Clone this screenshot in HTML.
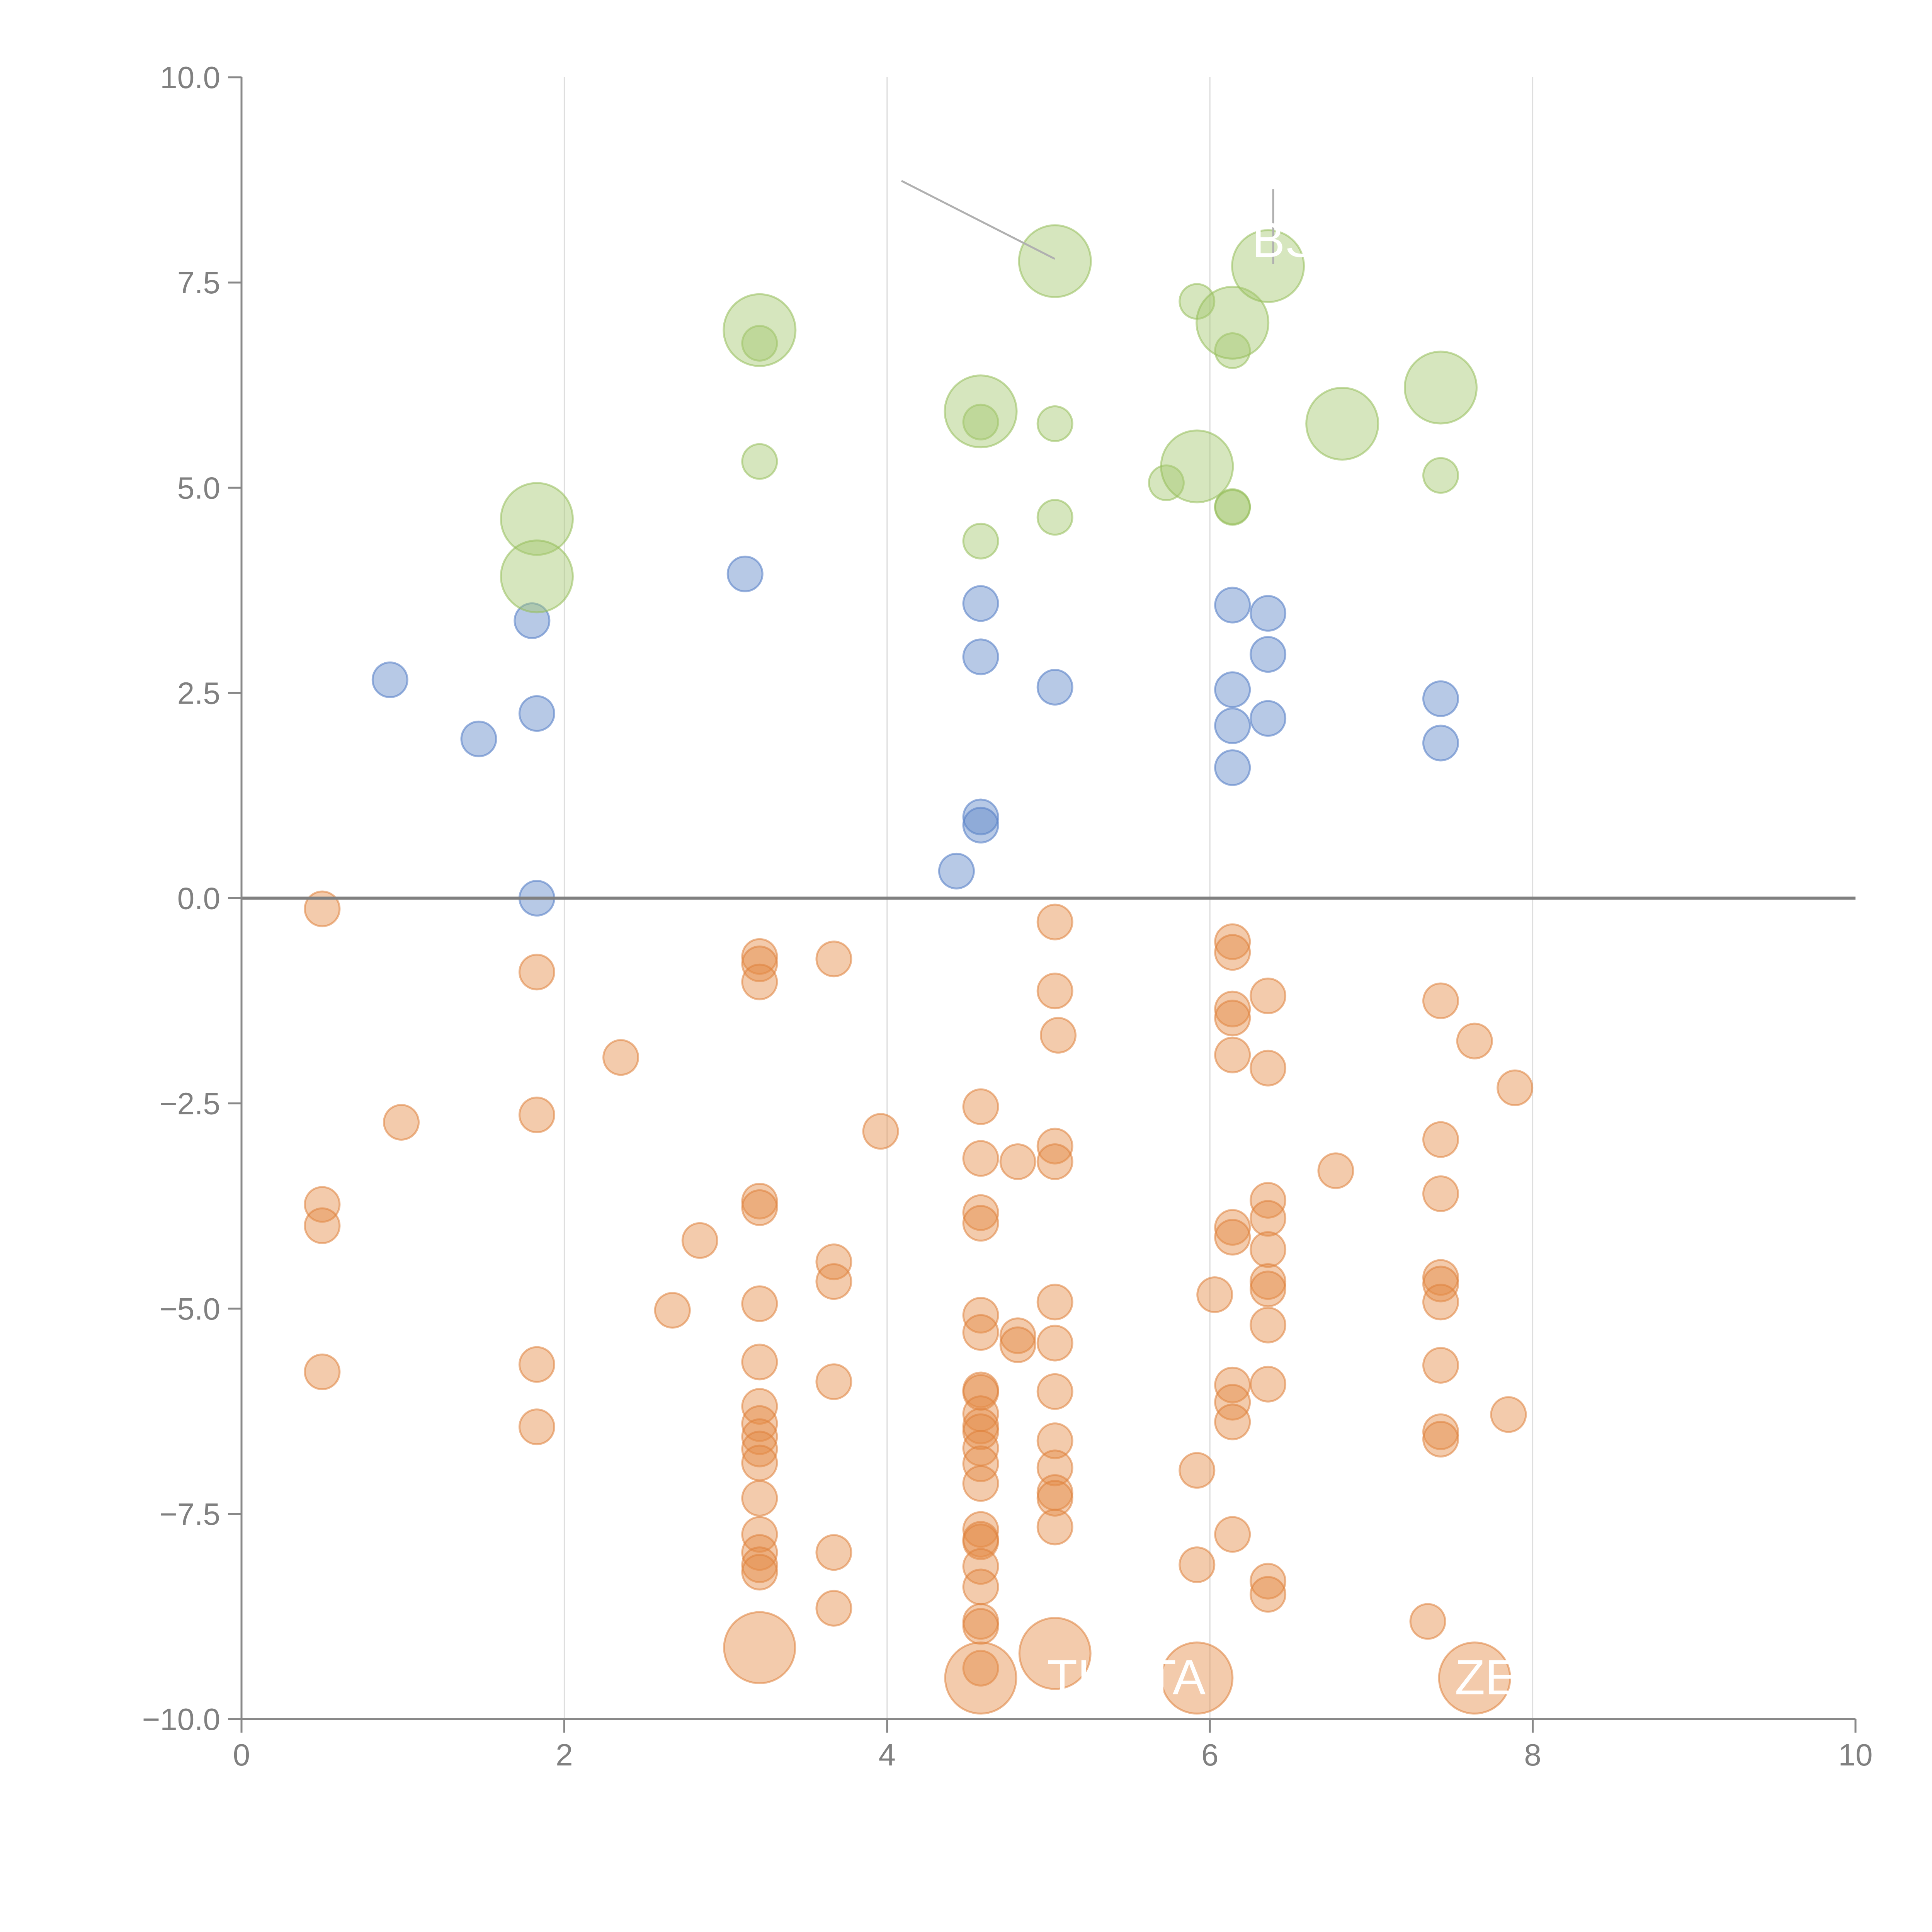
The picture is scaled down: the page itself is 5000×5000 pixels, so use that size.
<!DOCTYPE html>
<html><head><meta charset="utf-8"><style>html,body{margin:0;padding:0;background:#fff}svg{display:block}</style></head>
<body>
<svg id="chart" width="5000" height="5000" viewBox="0 0 5000 5000" xmlns="http://www.w3.org/2000/svg" font-family="Liberation Sans, sans-serif">
<g id="grid"></g>
<g id="marks"></g>
<g id="annot"></g>
<g id="axes"></g>
</svg>
<script>
const xTicks=[0,2,4,6,8,10];
const yTicks=[10,7.5,5,2.5,0,-2.5,-5,-7.5,-10];
const yTickLabels=["10.0","7.5","5.0","2.5","0.0","\u22122.5","\u22125.0","\u22127.5","\u221210.0"];
const blueX=[0.92,1.47,1.83,1.80,1.83,3.12,4.58,4.58,5.04,4.58,4.58,4.43,6.14,6.36,6.36,6.14,6.14,6.36,6.14,7.43,7.43];
const blueY=[2.66,1.94,2.25,3.38,0.0,3.95,3.59,2.94,2.57,0.99,0.89,0.33,3.57,3.47,2.97,2.54,2.10,2.19,1.59,2.43,1.89];
const greenX=[3.21,3.21,4.58,4.58,5.04,5.04,5.92,6.14,5.73,6.14,6.14,7.43];
const greenY=[6.76,5.32,5.80,4.35,5.78,4.64,7.27,6.67,5.06,4.77,4.76,5.15];
const greenBigX=[1.83,1.83,3.21,4.58,5.04,6.14,6.36,5.92,6.82,7.43];
const greenBigY=[4.62,3.92,6.92,5.93,7.76,7.01,7.70,5.26,5.78,6.22];
const orangeX=[0.5,0.5,0.5,0.5,0.99,1.83,1.83,1.83,1.83,2.35,2.67,2.84,
3.21,3.21,3.21,3.21,3.21,3.21,3.21,3.21,3.21,3.21,3.21,3.21,3.21,3.21,3.21,3.21,3.21,
3.67,3.67,3.67,3.67,3.67,3.67,3.96,
4.58,4.58,4.58,4.58,4.58,4.58,4.58,4.58,4.58,4.58,4.58,4.58,4.58,4.58,4.58,4.58,4.58,4.58,4.58,4.58,4.58,4.58,
4.81,4.81,4.81,
5.04,5.04,5.04,5.04,5.04,5.04,5.04,5.04,5.04,5.04,5.04,5.04,5.06,
5.92,5.92,6.03,
6.14,6.14,6.14,6.14,6.14,6.14,6.14,6.14,6.14,6.14,6.14,
6.36,6.36,6.36,6.36,6.36,6.36,6.36,6.36,6.36,6.36,6.36,
6.78,7.35,7.43,7.43,7.43,7.43,7.43,7.43,7.43,7.43,7.43,7.64,7.89,7.85];
const orangeY=[-0.13,-3.73,-3.99,-5.77,-2.73,-0.90,-2.64,-5.68,-6.44,-1.94,-5.02,-4.17,
-0.71,-0.80,-1.02,-3.69,-3.77,-4.94,-5.65,-6.19,-6.40,-6.56,-6.71,-6.88,-7.31,-7.75,-7.97,-8.12,-8.21,
-0.74,-4.43,-4.67,-5.89,-7.97,-8.65,-2.84,
-2.54,-3.17,-3.83,-3.96,-5.08,-5.29,-5.99,-6.02,-6.28,-6.43,-6.50,-6.70,-6.89,-7.13,-7.69,-7.81,-7.84,-8.14,-8.39,-8.81,-8.87,-9.38,
-3.21,-5.33,-5.44,
-0.29,-1.13,-3.02,-3.21,-4.92,-5.42,-6.01,-6.61,-6.94,-7.24,-7.31,-7.66,-1.67,
-6.97,-8.12,-4.83,
-0.53,-0.66,-1.35,-1.46,-1.91,-4.01,-4.13,-5.93,-6.14,-6.38,-7.75,
-1.19,-2.07,-3.68,-3.90,-4.28,-4.67,-4.76,-5.20,-5.92,-8.32,-8.48,
-3.32,-8.81,-1.25,-2.94,-3.60,-4.62,-4.70,-4.92,-5.69,-6.50,-6.59,-1.74,-2.31,-6.29];
const orangeBigX=[3.21,4.58,5.04,5.92,7.64];
const orangeBigY=[-9.13,-9.50,-9.20,-9.50,-9.50];

const X0=625,X1=4802,Y0=4449,Y1=200;
const sx=v=>X0+(v-0)/(10-0)*(X1-X0);
const sy=v=>Y0-(v+10)/20*(Y0-Y1);
const NS="http://www.w3.org/2000/svg";
function mk(tag,attrs,parent){const e=document.createElementNS(NS,tag);for(const k in attrs)e.setAttribute(k,attrs[k]);parent.appendChild(e);return e;}
const grid=document.getElementById('grid'),marks=document.getElementById('marks'),axes=document.getElementById('axes'),annot=document.getElementById('annot');

[2,4,6,8].forEach(t=>{const l=mk('line',{x1:sx(t),x2:sx(t),y1:Y1,y2:Y0,stroke:'#dcdcdc','stroke-width':3},grid);

});

function series(xs,ys,r,fill,stroke,name){xs.forEach((x,i)=>{const c=mk('circle',{cx:sx(x),cy:sy(ys[i]),r:r,fill:fill,stroke:stroke,'stroke-width':5},marks);

});}
series(orangeX,orangeY,45,'rgba(228,140,70,0.45)','rgba(222,130,60,0.55)','orange-bubble');
series(orangeBigX,orangeBigY,92,'rgba(228,140,70,0.45)','rgba(222,130,60,0.55)','orange-big-bubble');
series(blueX,blueY,45,'rgba(95,135,200,0.45)','rgba(90,130,200,0.6)','blue-bubble');
series(greenX,greenY,45,'rgba(165,200,110,0.45)','rgba(150,190,90,0.55)','green-bubble');
series(greenBigX,greenBigY,93,'rgba(165,200,110,0.45)','rgba(150,190,90,0.55)','green-big-bubble');

const l1=mk('line',{x1:2333,y1:468,x2:2730,y2:670,stroke:'#b0b0b0','stroke-width':5},annot);


const l2=mk('line',{x1:3295,y1:490,x2:3295,y2:683,stroke:'#b0b0b0','stroke-width':5},annot);


[["THETA",2710,4385],["ZE",3765,4385],["BS",3240,665]].forEach(d=>{const t=mk('text',{x:d[1],y:d[2],fill:'#fff','font-size':128},annot);t.textContent=d[0];

});

const za=mk('line',{x1:X0,x2:X1,y1:sy(0),y2:sy(0),stroke:'#808080','stroke-width':8},axes);


const ya=mk('line',{x1:X0,x2:X0,y1:Y1,y2:Y0,stroke:'#888','stroke-width':5},axes);


const xa=mk('line',{x1:X0,x2:X1,y1:Y0,y2:Y0,stroke:'#888','stroke-width':5},axes);


yTicks.forEach((t,i)=>{mk('line',{x1:X0-35,x2:X0,y1:sy(t),y2:sy(t),stroke:'#888','stroke-width':5},axes);
const tx=mk('text',{x:X0-55,y:sy(t)+28,'text-anchor':'end',fill:'#808080','font-size':80},axes);tx.textContent=yTickLabels[i];

});
xTicks.forEach(t=>{mk('line',{x1:sx(t),x2:sx(t),y1:Y0,y2:Y0+35,stroke:'#888','stroke-width':5},axes);
const tx=mk('text',{x:sx(t),y:Y0+120,'text-anchor':'middle',fill:'#808080','font-size':80},axes);tx.textContent=String(t);

});
</script>
</body></html>
